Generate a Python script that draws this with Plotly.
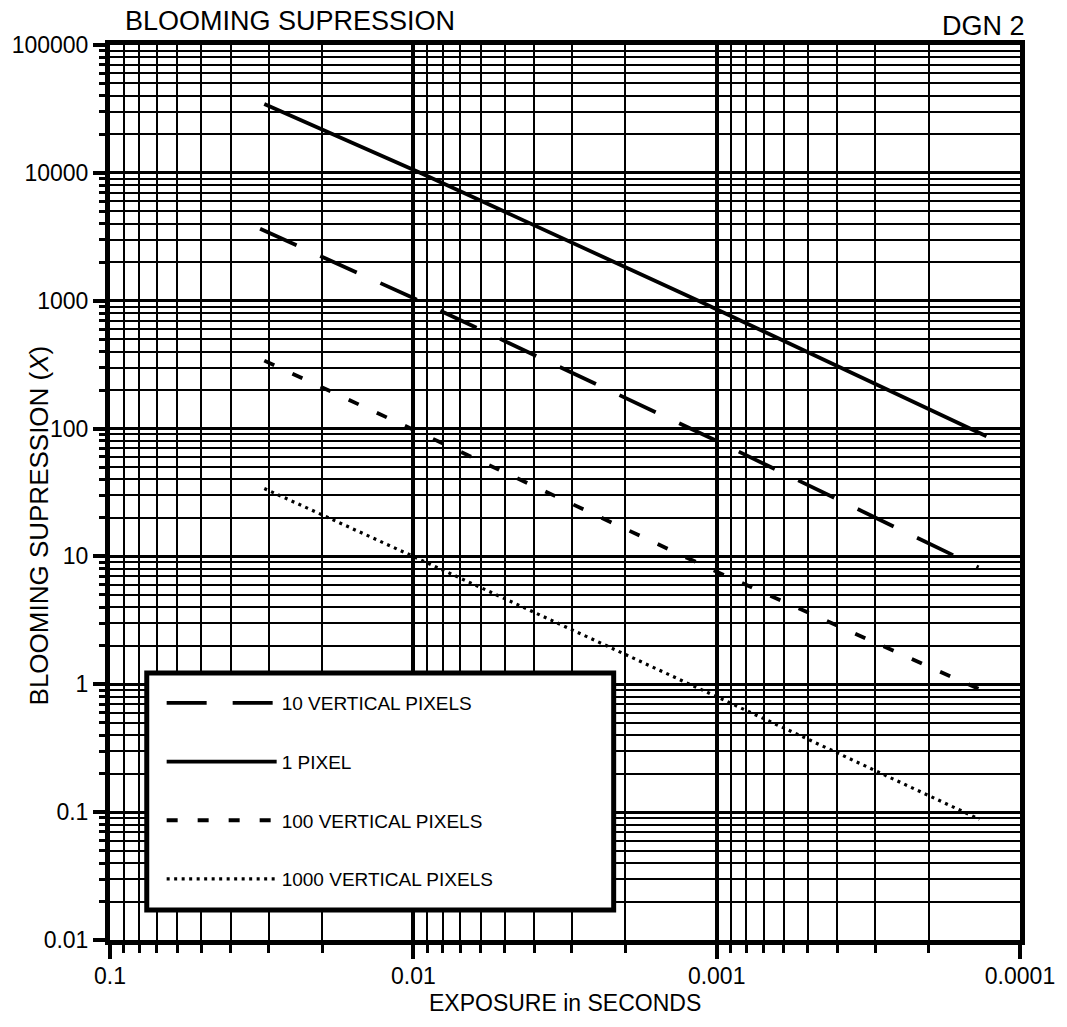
import plotly.graph_objects as go

# ---- data (exposure in seconds, blooming suppression X) ----
exposure_10v = [0.032, 0.01, 0.001, 0.000137]
supp_10v = [3650, 1050, 80, 8.2]

exposure_1px = [0.031, 0.0095, 0.00113, 0.000129]
supp_1px = [34600, 10000, 982, 87]

exposure_100v = [0.031, 0.01, 0.001, 0.000134]
supp_100v = [340, 98, 7.6, 0.9]

exposure_1000v = [0.031, 0.01, 0.001, 0.000136]
supp_1000v = [34, 10, 0.8, 0.088]

series_names = ["10 VERTICAL PIXELS", "1 PIXEL", "100 VERTICAL PIXELS", "1000 VERTICAL PIXELS"]

x_tickvals = [0.1, 0.01, 0.001, 0.0001]
x_ticktext = ["0.1", "0.01", "0.001", "0.0001"]
y_tickvals = [0.01, 0.1, 1, 10, 100, 1000, 10000, 100000]
y_ticktext = ["0.01", "0.1", "1", "10", "100", "1000", "10000", "100000"]

x_minor = [m * 10.0 ** e for e in (-4, -3, -2) for m in range(2, 10)]
y_minor = [m * 10.0 ** e for e in range(-2, 5) for m in range(2, 10)]

FONT = "Liberation Sans, Arial, Helvetica, sans-serif"

fig = go.Figure()
styles = [
    dict(dash="40px,26px", width=3.8),
    dict(dash="solid", width=3.8),
    dict(dash="11px,20px", width=3.8),
    dict(dash="3px,4.5px", width=3.2),
]
data = [
    (exposure_10v, supp_10v),
    (exposure_1px, supp_1px),
    (exposure_100v, supp_100v),
    (exposure_1000v, supp_1000v),
]
for i, ((xs, ys), name, st) in enumerate(zip(data, series_names, styles)):
    fig.add_trace(go.Scatter(
        x=xs, y=ys, mode="lines", name=name, legendgroup=f"g{i}",
        line=dict(color="black", width=st["width"], dash=st["dash"]),
    ))

L, R, T, B = 108, 1024, 45, 940
W, H = 1067, 1027
pw, ph = R - L, B - T

def px(xpix):
    return (xpix - L) / pw

def py(ypix):
    return (B - ypix) / ph

fig.update_layout(
    width=W, height=H,
    margin=dict(l=L, r=W - R, t=T, b=H - B),
    paper_bgcolor="white", plot_bgcolor="white",
    font=dict(family=FONT, color="black", size=23),
    showlegend=True,
    legend=dict(
        x=px(160), y=py(684), xanchor="left", yanchor="top",
        bgcolor="rgba(0,0,0,0)", borderwidth=0,
        font=dict(family=FONT, size=19, color="black"),
        itemwidth=110, tracegroupgap=31, traceorder="grouped",
    ),
    xaxis=dict(
        type="log", range=[-1, -4],
        tickmode="array", tickvals=x_tickvals, ticktext=x_ticktext,
        ticks="outside", ticklen=14, tickwidth=4, tickcolor="black",
        showgrid=True, gridcolor="black", gridwidth=3.5,
        showline=True, linecolor="black", linewidth=5, mirror=True,
        zeroline=False, tickfont=dict(size=23), ticklabelstandoff=-3,
        minor=dict(tickmode="array", tickvals=x_minor, ticks="outside", ticklen=8,
                   tickwidth=3, tickcolor="black", showgrid=True,
                   gridcolor="black", gridwidth=2.2),
    ),
    yaxis=dict(
        type="log", range=[-2, 5],
        tickmode="array", tickvals=y_tickvals, ticktext=y_ticktext,
        ticks="outside", ticklen=12, tickwidth=4, tickcolor="black",
        showgrid=True, gridcolor="black", gridwidth=3,
        showline=True, linecolor="black", linewidth=5, mirror=True,
        zeroline=False, tickfont=dict(size=23),
        minor=dict(tickmode="array", tickvals=y_minor, ticks="outside", ticklen=6,
                   tickwidth=3, tickcolor="black", showgrid=True,
                   gridcolor="black", gridwidth=1.9),
    ),
    shapes=[dict(
        type="rect", xref="paper", yref="paper",
        x0=px(145), x1=px(615), y0=py(910), y1=py(673),
        line=dict(color="black", width=5), fillcolor="white", layer="above",
    )],
    annotations=[
        dict(text="BLOOMING SUPRESSION", xref="paper", yref="paper",
             x=px(121), y=py(21), xanchor="left", yanchor="middle",
             showarrow=False, font=dict(size=27)),
        dict(text="DGN 2", xref="paper", yref="paper",
             x=px(1031), y=py(26), xanchor="right", yanchor="middle",
             showarrow=False, font=dict(size=27)),
        dict(text="BLOOMING SUPRESSION (<i>X</i>)", xref="paper", yref="paper",
             x=px(37), y=py(525), xanchor="center", yanchor="middle",
             textangle=-90, showarrow=False, font=dict(size=26)),
        dict(text="EXPOSURE in SECONDS", xref="paper", yref="paper",
             x=0.5, y=py(1003), xanchor="center", yanchor="middle",
             showarrow=False, font=dict(size=23)),
    ],
)

fig.write_html("out.html")
